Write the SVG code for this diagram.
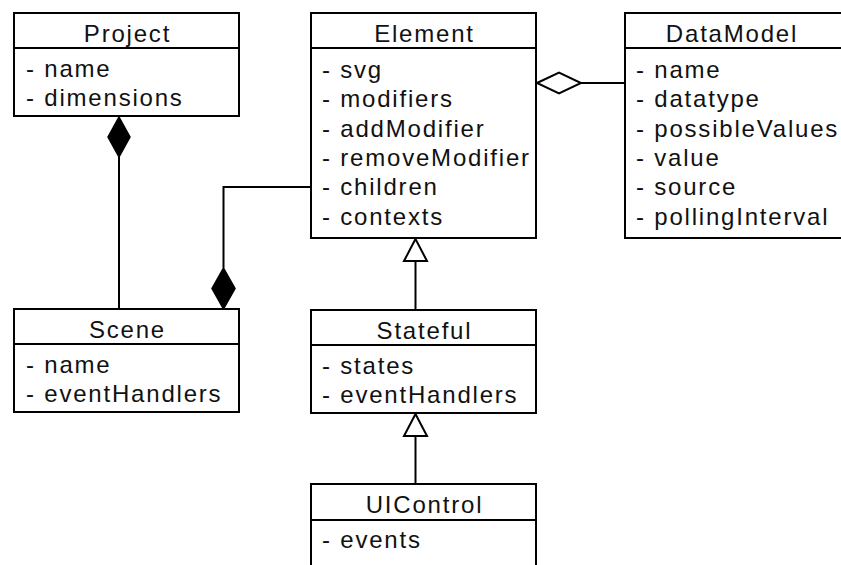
<svg xmlns="http://www.w3.org/2000/svg" width="841" height="565" viewBox="0 0 841 565">
<style>
.box{fill:#fff;stroke:#000;stroke-width:2}
.sep{stroke:#000;stroke-width:2}
.t{font-family:"Liberation Sans",Arial,sans-serif;font-size:24px;letter-spacing:1.8px;fill:#111}
.h{text-anchor:middle}
.ln{fill:none;stroke:#000;stroke-width:2}
.fd{fill:#000;stroke:#000;stroke-width:1.5}
.od{fill:#fff;stroke:#000;stroke-width:2}
</style>
<rect width="841" height="565" fill="#fff"/>
<g id="connectors">
  <path class="ln" d="M119,157 V309"/>
  <polygon class="fd" points="119,117 130,137 119,157 108,137"/>
  <path class="ln" d="M311,187 H223.5 V268"/>
  <polygon class="fd" points="223.5,268 235,288.5 223.5,309 212,288.5"/>
  <path class="ln" d="M581,83 H625"/>
  <polygon class="od" points="537,83 559,72.5 581,83 559,93.5"/>
  <path class="ln" d="M415.5,261 V310"/>
  <polygon class="od" points="415.5,239 427,261 404,261"/>
  <path class="ln" d="M415.5,436 V484"/>
  <polygon class="od" points="415.5,414 427,436 404,436"/>
</g>
<g id="project">
  <rect class="box" x="14" y="13" width="225" height="103"/>
  <line class="sep" x1="14" y1="48" x2="239" y2="48"/>
  <text class="t h" x="127.5" y="42">Project</text>
  <text class="t" x="26" y="77">- name</text>
  <text class="t" x="26" y="106">- dimensions</text>
</g>
<g id="element">
  <rect class="box" x="311" y="13" width="225" height="225"/>
  <line class="sep" x1="311" y1="48" x2="536" y2="48"/>
  <text class="t h" x="424.5" y="42">Element</text>
  <text class="t" x="322" y="78">- svg</text>
  <text class="t" x="322" y="107.3">- modifiers</text>
  <text class="t" x="322" y="136.6">- addModifier</text>
  <text class="t" x="322" y="166">- removeModifier</text>
  <text class="t" x="322" y="195.3">- children</text>
  <text class="t" x="322" y="224.6">- contexts</text>
</g>
<g id="datamodel">
  <rect class="box" x="625" y="13" width="230" height="225"/>
  <line class="sep" x1="625" y1="48" x2="855" y2="48"/>
  <text class="t h" x="732" y="42">DataModel</text>
  <text class="t" x="636" y="78">- name</text>
  <text class="t" x="636" y="107.3">- datatype</text>
  <text class="t" x="636" y="136.6">- possibleValues</text>
  <text class="t" x="636" y="166">- value</text>
  <text class="t" x="636" y="195.3">- source</text>
  <text class="t" x="636" y="224.6">- pollingInterval</text>
</g>
<g id="scene">
  <rect class="box" x="14" y="309" width="225" height="103"/>
  <line class="sep" x1="14" y1="344" x2="239" y2="344"/>
  <text class="t h" x="127.5" y="338">Scene</text>
  <text class="t" x="26" y="373">- name</text>
  <text class="t" x="26" y="402">- eventHandlers</text>
</g>
<g id="stateful">
  <rect class="box" x="311" y="310" width="225" height="103"/>
  <line class="sep" x1="311" y1="345" x2="536" y2="345"/>
  <text class="t h" x="424.5" y="339">Stateful</text>
  <text class="t" x="322" y="374">- states</text>
  <text class="t" x="322" y="403">- eventHandlers</text>
</g>
<g id="uicontrol">
  <rect class="box" x="311" y="484" width="225" height="100"/>
  <line class="sep" x1="311" y1="520" x2="536" y2="520"/>
  <text class="t h" x="424.5" y="513">UIControl</text>
  <text class="t" x="322" y="548">- events</text>
</g>
</svg>
